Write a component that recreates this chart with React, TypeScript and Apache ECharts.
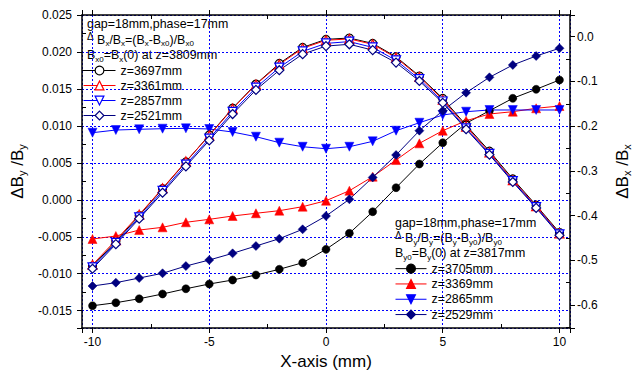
import React, { useEffect, useRef } from 'react';
import * as echarts from 'echarts';

const FONT = '"Liberation Sans", Arial, Helvetica, sans-serif';

const X_VALUES = [-10, -9, -8, -7, -6, -5, -4, -3, -2, -1, 0, 1, 2, 3, 4, 5, 6, 7, 8, 9, 10];

// Left axis: ΔBy/By (filled symbols)
const BY_NAMES = ['z=3705mm', 'z=3369mm', 'z=2865mm', 'z=2529mm'];
const BY_3705 = [-0.01433, -0.01392, -0.01338, -0.01274, -0.01203, -0.01139, -0.01085, -0.01017, -0.0094, -0.00851, -0.0067, -0.00453, -0.00161, 0.00164, 0.00484, 0.00772, 0.01035, 0.01205, 0.01373, 0.01495, 0.01621];
const BY_3369 = [-0.0053, -0.0049, -0.00409, -0.00372, -0.00304, -0.00264, -0.00219, -0.00182, -0.00147, -0.00093, -0.00012, 0.00123, 0.00313, 0.00538, 0.00764, 0.00935, 0.0107, 0.01161, 0.01192, 0.01238, 0.01269];
const BY_2865 = [0.00908, 0.00944, 0.00954, 0.00962, 0.00967, 0.00958, 0.00917, 0.00854, 0.00773, 0.00718, 0.00691, 0.00718, 0.00791, 0.00935, 0.01043, 0.01147, 0.01192, 0.01215, 0.01215, 0.01215, 0.01215];
const BY_2529 = [-0.01166, -0.01121, -0.01058, -0.00994, -0.00896, -0.00814, -0.00724, -0.00625, -0.00526, -0.00399, -0.00219, 0.00007, 0.00303, 0.00606, 0.00935, 0.01206, 0.01449, 0.01657, 0.01824, 0.01945, 0.0205];

// Right axis: ΔBx/Bx (open symbols)
const BX_NAMES = ['z=3697mm', 'z=3361mm', 'z=2857mm', 'z=2521mm'];
const BX_3697 = [-0.513, -0.458, -0.4, -0.34, -0.28, -0.22, -0.16, -0.106, -0.06, -0.024, -0.006, -0.003, -0.015, -0.045, -0.088, -0.138, -0.198, -0.256, -0.318, -0.377, -0.438];
const BX_3361 = [-0.51, -0.455, -0.398, -0.339, -0.279, -0.221, -0.161, -0.107, -0.062, -0.026, -0.008, -0.005, -0.017, -0.047, -0.09, -0.141, -0.201, -0.259, -0.321, -0.379, -0.44];
const BX_2857 = [-0.516, -0.461, -0.404, -0.345, -0.286, -0.228, -0.168, -0.114, -0.069, -0.033, -0.015, -0.011, -0.024, -0.053, -0.095, -0.145, -0.205, -0.262, -0.323, -0.381, -0.442];
const BX_2521 = [-0.519, -0.464, -0.407, -0.349, -0.29, -0.232, -0.173, -0.119, -0.075, -0.039, -0.021, -0.017, -0.03, -0.058, -0.099, -0.148, -0.207, -0.264, -0.325, -0.383, -0.444];

const HEADER_BX = [
  'gap=18mm,phase=17mm',
  '{d|Δ} B{s|x}/B{s|x}=(B{s|x}-B{s|x0})/B{s|x0}',
  'B{s|x0}=B{s|x}(0) at z=3809mm',
];
const HEADER_BY = [
  'gap=18mm,phase=17mm',
  '{d|Δ} B{s|y}/B{s|y}=(B{s|y}-B{s|y0})/B{s|y0}',
  'B{s|y0}=B{s|y}(0) at z=3817mm',
];

const BLACK = '#000000';
const RED = '#ff0000';
const BLUE = '#0000ff';
const NAVY = '#000080';

function makeSeries(
  name: string,
  values: number[],
  color: string,
  symbol: string,
  size: number,
  rotate: number,
  open: boolean,
  yAxisIndex: number
) {
  return {
    type: 'line',
    name,
    xAxisIndex: 0,
    yAxisIndex,
    data: X_VALUES.map((x, i) => [x, values[i]]),
    symbol,
    symbolSize: size,
    symbolRotate: rotate,
    showAllSymbol: true,
    silent: true,
    lineStyle: { color, width: 1 },
    itemStyle: open
      ? { color: '#ffffff', borderColor: color, borderWidth: 1.2 }
      : { color, borderColor: color, borderWidth: 0.5 },
    emphasis: { disabled: true },
  };
}

function headerTexts(lines: string[], x: number, ys: number[]) {
  return lines.map((t, i) => ({
    type: 'text',
    x,
    y: ys[i],
    silent: true,
    style: {
      text: t,
      fontSize: 12.4,
      fontFamily: FONT,
      fill: '#000',
      lineHeight: 16,
      verticalAlign: 'middle',
      rich: {
        s: { fontSize: 8, fontFamily: FONT, verticalAlign: 'bottom', lineHeight: 8, fill: '#000' },
        d: { fontSize: 10, fontFamily: FONT, lineHeight: 14, verticalAlign: 'top', fill: '#000' },
      },
    },
  }));
}

export default function App() {
  const ref = useRef<HTMLDivElement>(null);

  useEffect(() => {
    if (!ref.current) return;
    const chart = echarts.init(ref.current, undefined, { renderer: 'svg' });

    const axisLine = { show: true, onZero: false, lineStyle: { color: '#000', width: 1.5 } };
    const axisTick = { show: true, inside: false, length: 5, lineStyle: { color: '#000', width: 1 } };
    const minorTick = { show: true, splitNumber: 2, length: -4, lineStyle: { color: '#000', width: 1 } };
    const splitLine = { show: true, lineStyle: { color: BLUE, type: [2, 2], width: 1 } };
    const labelStyle = { fontSize: 12, color: '#000', fontFamily: FONT };
    const nameRich = {
      s: { fontSize: 11, fontFamily: FONT, verticalAlign: 'bottom', lineHeight: 12, color: '#000' },
      d: { fontSize: 17, fontFamily: FONT, lineHeight: 20, color: '#000' },
    };

    const legendBase = {
      orient: 'vertical',
      padding: 0,
      itemGap: 0,
      itemHeight: 11,
      selectedMode: false,
      itemStyle: { borderWidth: 1.2 },
      lineStyle: { width: 1 },
    };

    const option = {
      animation: false,
      backgroundColor: '#ffffff',
      grid: { left: 82, right: 64, top: 15, bottom: 43, containLabel: false, outerBoundsMode: 'none' },
      xAxis: [
        {
          type: 'value',
          min: -10.45,
          max: 10.45,
          splitNumber: 4,
          position: 'bottom',
          axisLine,
          axisTick,
          minorTick,
          splitLine,
          minorSplitLine: { show: false },
          axisLabel: { ...labelStyle, margin: 8, showMinLabel: false, showMaxLabel: false },
          name: 'X-axis (mm)',
          nameLocation: 'middle',
          nameGap: 20,
          nameTextStyle: { fontSize: 17, color: '#000', fontFamily: FONT },
        },
        {
          type: 'value',
          min: -10.45,
          max: 10.45,
          splitNumber: 4,
          position: 'top',
          axisLine,
          axisTick,
          minorTick,
          splitLine: { show: false },
          axisLabel: { show: false },
        },
      ],
      yAxis: [
        {
          type: 'value',
          position: 'left',
          min: -0.01734,
          max: 0.025,
          splitNumber: 8,
          axisLine,
          axisTick,
          minorTick,
          splitLine,
          axisLabel: {
            ...labelStyle,
            margin: 10,
            showMinLabel: false,
            formatter: (v: number) => (Math.abs(v) < 1e-9 ? 0 : v).toFixed(3),
          },
          name: '{d|Δ}B{s|y} /B{s|y}',
          nameLocation: 'middle',
          nameRotate: 90,
          nameGap: 45,
          nameTextStyle: { fontSize: 17, color: '#000', fontFamily: FONT, lineHeight: 20, rich: nameRich },
        },
        {
          type: 'value',
          position: 'right',
          min: -0.6515,
          max: 0.0485,
          splitNumber: 7,
          axisLine,
          axisTick,
          minorTick,
          splitLine: { show: false },
          axisLabel: {
            ...labelStyle,
            margin: 7,
            showMinLabel: false,
            showMaxLabel: false,
            formatter: (v: number) => (Math.abs(v) < 1e-9 ? 0 : v).toFixed(1),
          },
          name: '{d|Δ}B{s|x} /B{s|x}',
          nameLocation: 'middle',
          nameRotate: 90,
          nameGap: 42,
          nameTextStyle: { fontSize: 17, color: '#000', fontFamily: FONT, lineHeight: 20, rich: nameRich },
        },
      ],
      legend: [
        {
          ...legendBase,
          left: 83,
          top: 63,
          itemWidth: 32,
          data: BX_NAMES,
          textStyle: { fontSize: 12.4, color: '#000', fontFamily: FONT, lineHeight: 15 },
        },
        {
          ...legendBase,
          left: 395,
          top: 261,
          itemWidth: 31,
          data: BY_NAMES,
          textStyle: { fontSize: 12.4, color: '#000', fontFamily: FONT, lineHeight: 15.3 },
        },
      ],
      graphic: [
        ...headerTexts(HEADER_BX, 87, [24, 39.5, 55]),
        ...headerTexts(HEADER_BY, 395, [223, 238, 253]),
      ],
      series: [
        makeSeries(BY_NAMES[0], BY_3705, BLACK, 'circle', 8, 0, false, 0),
        makeSeries(BY_NAMES[1], BY_3369, RED, 'triangle', 9, 0, false, 0),
        makeSeries(BY_NAMES[2], BY_2865, BLUE, 'triangle', 9, 180, false, 0),
        makeSeries(BY_NAMES[3], BY_2529, NAVY, 'diamond', 9, 0, false, 0),
        makeSeries(BX_NAMES[0], BX_3697, BLACK, 'circle', 8, 0, true, 1),
        makeSeries(BX_NAMES[1], BX_3361, RED, 'triangle', 9, 0, true, 1),
        makeSeries(BX_NAMES[2], BX_2857, BLUE, 'triangle', 9, 180, true, 1),
        makeSeries(BX_NAMES[3], BX_2521, NAVY, 'diamond', 9, 0, true, 1),
      ],
    };

    chart.setOption(option as any);
    return () => {
      chart.dispose();
    };
  }, []);

  return (
    <div
      ref={ref}
      style={{ position: 'absolute', left: 0, top: 0, width: 634, height: 371, background: '#fff' }}
    />
  );
}
